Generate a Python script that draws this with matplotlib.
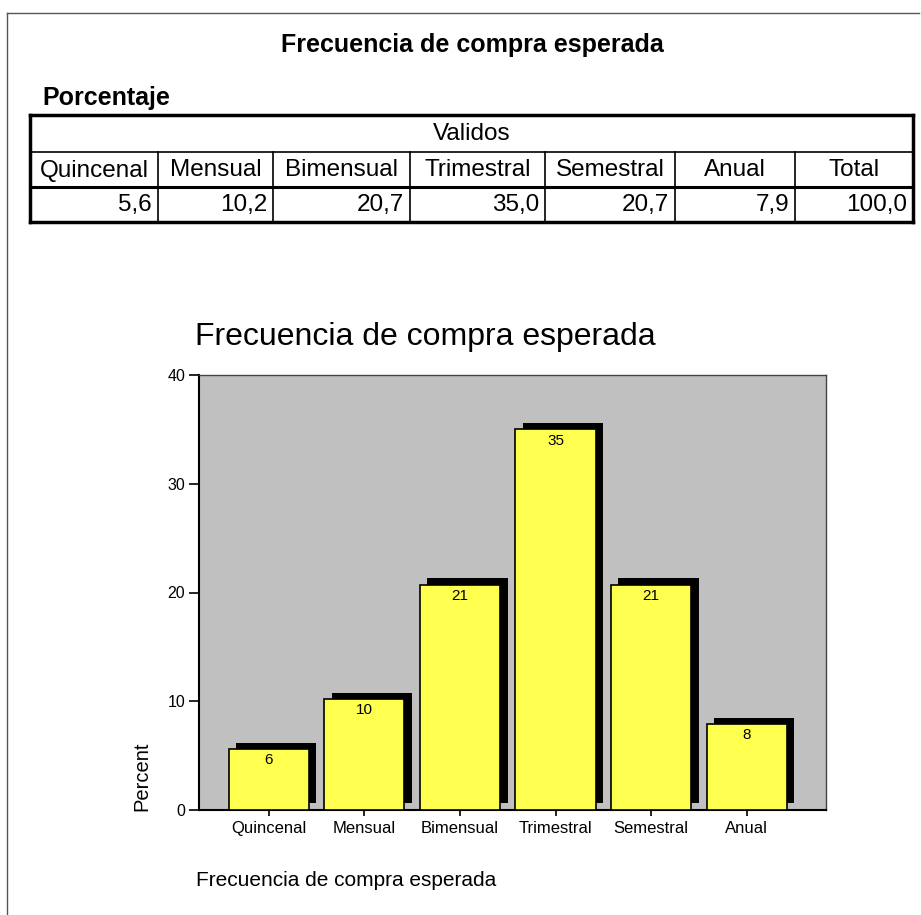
import matplotlib.pyplot as plt
from matplotlib.lines import Line2D

plt.rcParams['font.family'] = ['Liberation Sans', 'DejaVu Sans']

# data
categories = ['Quincenal', 'Mensual', 'Bimensual', 'Trimestral', 'Semestral', 'Anual']
percent = [5.6, 10.2, 20.7, 35.0, 20.7, 7.9]
total_label = 'Total'
total_value = 100.0
title = 'Frecuencia de compra esperada'

W, H = 921, 915
fig = plt.figure(figsize=(W / 100, H / 100), dpi=100)


def fx(px):
    return px / W


def fy(py):
    return 1 - py / H


def hline(x0, x1, y, lw, color='black'):
    fig.add_artist(Line2D([fx(x0), fx(x1)], [fy(y), fy(y)], lw=lw, color=color,
                          solid_capstyle='projecting'))


def vline(x, y0, y1, lw, color='black'):
    fig.add_artist(Line2D([fx(x), fx(x)], [fy(y0), fy(y1)], lw=lw, color=color,
                          solid_capstyle='projecting'))


# page border
hline(7, 919, 13, 1.0, '#555555')
vline(7, 13, 915, 1.0, '#555555')

# header text
fig.text(fx(472), fy(45), title, ha='center', va='center', fontsize=18, fontweight='bold')
fig.text(fx(42), fy(98), 'Porcentaje', ha='left', va='center', fontsize=18, fontweight='bold')

# table
col_edges = [30, 158, 273, 410, 545, 675, 795, 913]
row_edges = [115, 152, 187, 222]
headers = categories + [total_label]
values = percent + [total_value]

hline(col_edges[0], col_edges[-1], row_edges[0], 2.5)
hline(col_edges[0], col_edges[-1], row_edges[1], 1.2)
hline(col_edges[0], col_edges[-1], row_edges[2], 2.2)
hline(col_edges[0], col_edges[-1], row_edges[3], 2.5)
vline(col_edges[0], row_edges[0], row_edges[3], 2.5)
vline(col_edges[-1], row_edges[0], row_edges[3], 2.5)
for x in col_edges[1:-1]:
    vline(x, row_edges[1], row_edges[3], 1.2)

fig.text(fx((col_edges[0] + col_edges[-1]) / 2), fy((row_edges[0] + row_edges[1]) / 2 + 1),
         'Validos', ha='center', va='center', fontsize=17.5)
for i, (h, v) in enumerate(zip(headers, values)):
    x0, x1 = col_edges[i], col_edges[i + 1]
    fig.text(fx((x0 + x1) / 2), fy((row_edges[1] + row_edges[2]) / 2 + 1), h,
             ha='center', va='center', fontsize=17.5)
    fig.text(fx(x1 - 6), fy((row_edges[2] + row_edges[3]) / 2 + 1),
             f'{v:.1f}'.replace('.', ','), ha='right', va='center', fontsize=17.5)

# chart
ax = fig.add_axes([fx(199), fy(810), fx(826) - fx(199), fy(375) - fy(810)])
ax.set_facecolor('#c0c0c0')
xs = list(range(len(categories)))
ax.bar([x + 0.078 for x in xs], percent, width=0.84, bottom=0.6, color='black',
       edgecolor='none', zorder=2)
ax.bar(xs, percent, width=0.84, color='#ffff50', edgecolor='black', linewidth=1.2, zorder=3)
for x, v in zip(xs, percent):
    ax.annotate(f'{v:.0f}', (x, v), xytext=(0, -3), textcoords='offset points',
                ha='center', va='top', fontsize=11, zorder=4)

ax.set_xlim(-0.73, 5.83)
ax.set_ylim(0, 40)
ax.set_yticks([0, 10, 20, 30, 40])
ax.set_xticks(xs)
ax.set_xticklabels(categories)
ax.tick_params(axis='y', length=7, width=1.2, pad=3, labelsize=11.5)
ax.tick_params(axis='x', length=4, width=1.2, pad=4, labelsize=12)
for side in ['left', 'bottom']:
    ax.spines[side].set_linewidth(1.5)
    ax.spines[side].set_color('black')
for side in ['top', 'right']:
    ax.spines[side].set_linewidth(1.0)
    ax.spines[side].set_color('#444444')

fig.text(fx(195), fy(337), title, ha='left', va='center', fontsize=23)
fig.text(fx(142), fy(776), 'Percent', ha='center', va='center', rotation=90, fontsize=14.5)
fig.text(fx(196), fy(880), title, ha='left', va='center', fontsize=15)

fig.savefig('out.png', dpi=100)
